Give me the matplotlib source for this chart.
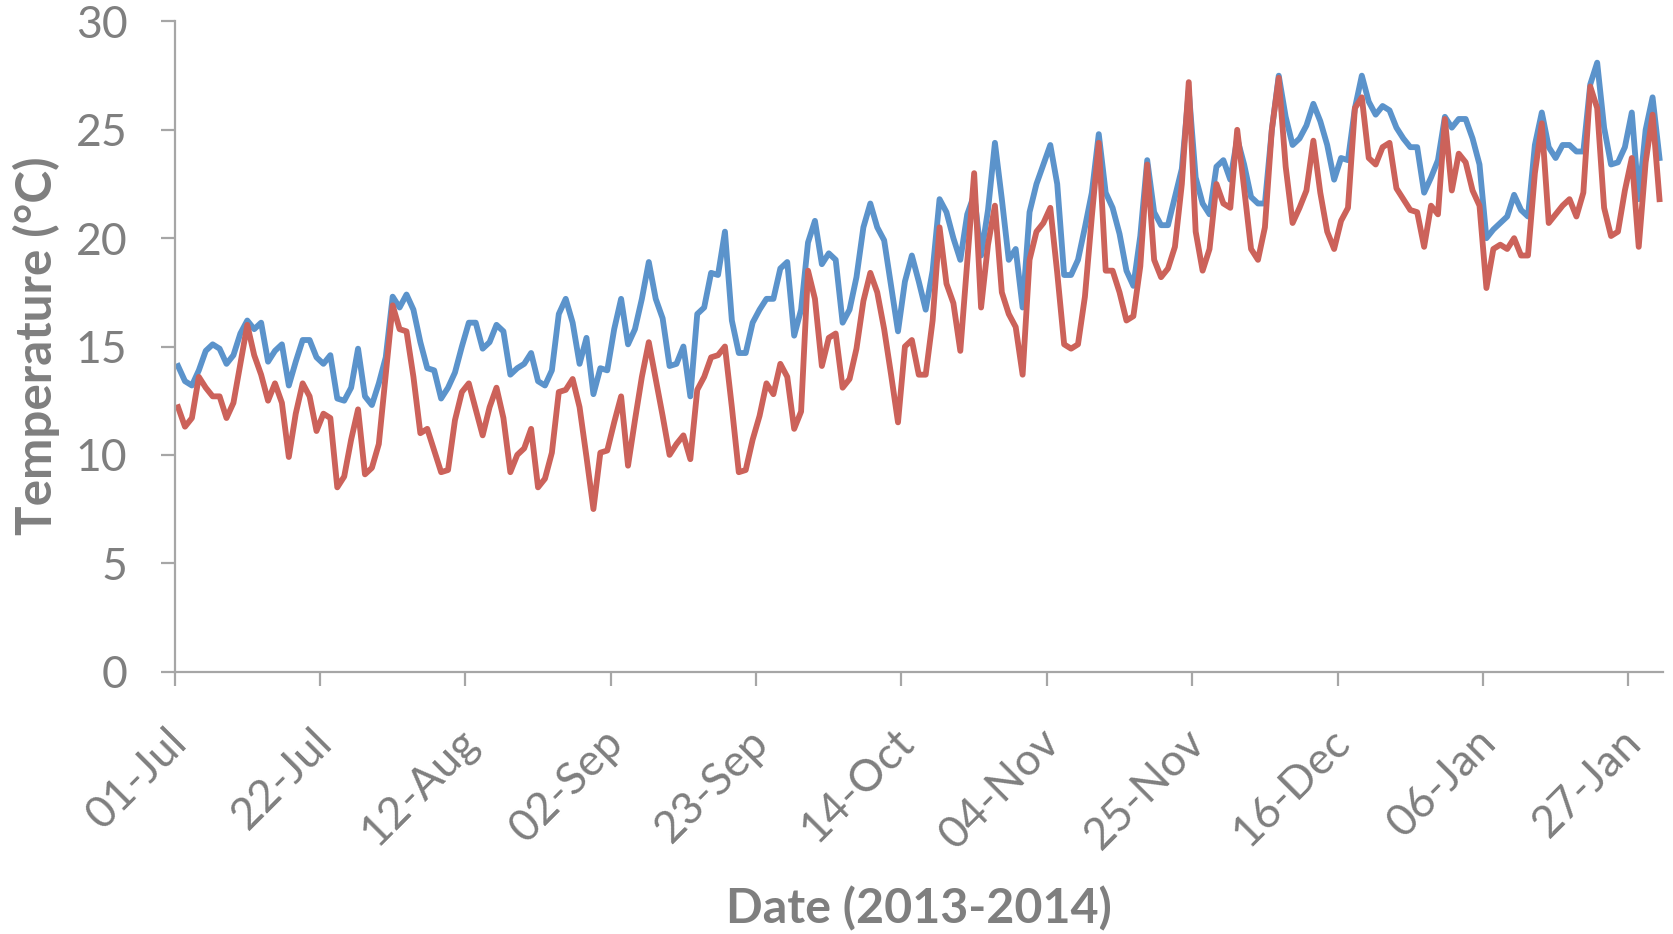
import numpy as np
import pandas as pd
import matplotlib
matplotlib.use('Agg')
from matplotlib import pyplot as plt
from matplotlib import transforms

# daily temperatures, 01-Jul-2013 to 31-Jan-2014
start_date = '2013-07-01'
blue_temps = [
    14.1, 13.4, 13.2, 13.9, 14.8, 15.1, 14.9, 14.2, 14.6, 15.6,
    16.2, 15.8, 16.1, 14.3, 14.8, 15.1, 13.2, 14.3, 15.3, 15.3,
    14.5, 14.2, 14.6, 12.6, 12.5, 13.1, 14.9, 12.7, 12.3, 13.3,
    14.5, 17.3, 16.8, 17.4, 16.7, 15.2, 14.0, 13.9, 12.6, 13.1,
    13.8, 15.0, 16.1, 16.1, 14.9, 15.2, 16.0, 15.7, 13.7, 14.0,
    14.2, 14.7, 13.4, 13.2, 13.9, 16.5, 17.2, 16.1, 14.2, 15.4,
    12.8, 14.0, 13.9, 15.8, 17.2, 15.1, 15.8, 17.2, 18.9, 17.2,
    16.3, 14.1, 14.2, 15.0, 12.7, 16.5, 16.8, 18.4, 18.3, 20.3,
    16.2, 14.7, 14.7, 16.1, 16.7, 17.2, 17.2, 18.6, 18.9, 15.5,
    16.7, 19.8, 20.8, 18.8, 19.3, 19.0, 16.1, 16.7, 18.2, 20.5,
    21.6, 20.5, 19.9, 17.8, 15.7, 18.0, 19.2, 18.0, 16.7, 18.5,
    21.8, 21.2, 20.0, 19.0, 21.1, 22.0, 19.2, 21.3, 24.4, 21.8,
    19.0, 19.5, 16.8, 21.2, 22.5, 23.4, 24.3, 22.5, 18.3, 18.3,
    19.0, 20.5, 22.1, 24.8, 22.1, 21.4, 20.2, 18.5, 17.8, 20.1,
    23.6, 21.2, 20.6, 20.6, 21.9, 23.2, 26.8, 22.8, 21.6, 21.1,
    23.3, 23.6, 22.7, 24.6, 23.4, 21.9, 21.6, 21.6, 25.0, 27.5,
    25.6, 24.3, 24.6, 25.2, 26.2, 25.4, 24.3, 22.7, 23.7, 23.6,
    26.0, 27.5, 26.3, 25.7, 26.1, 25.9, 25.1, 24.6, 24.2, 24.2,
    22.1, 22.8, 23.6, 25.6, 25.1, 25.5, 25.5, 24.6, 23.4, 20.0,
    20.4, 20.7, 21.0, 22.0, 21.3, 21.0, 24.3, 25.8, 24.2, 23.7,
    24.3, 24.3, 24.0, 24.0, 27.1, 28.1, 25.1, 23.4, 23.5, 24.2,
    25.8, 21.8, 25.0, 26.5, 23.7,
]
red_temps = [
    12.2, 11.3, 11.7, 13.6, 13.1, 12.7, 12.7, 11.7, 12.4, 14.2,
    16.0, 14.6, 13.7, 12.5, 13.3, 12.4, 9.9, 11.9, 13.3, 12.7,
    11.1, 11.9, 11.7, 8.5, 9.0, 10.7, 12.1, 9.1, 9.4, 10.5,
    13.7, 16.9, 15.8, 15.7, 13.6, 11.0, 11.2, 10.2, 9.2, 9.3,
    11.6, 12.9, 13.3, 12.1, 10.9, 12.2, 13.1, 11.7, 9.2, 10.0,
    10.3, 11.2, 8.5, 8.9, 10.1, 12.9, 13.0, 13.5, 12.2, 9.9,
    7.5, 10.1, 10.2, 11.5, 12.7, 9.5, 11.6, 13.6, 15.2, 13.5,
    11.8, 10.0, 10.5, 10.9, 9.8, 13.0, 13.6, 14.5, 14.6, 15.0,
    12.2, 9.2, 9.3, 10.7, 11.8, 13.3, 12.8, 14.2, 13.6, 11.2,
    12.0, 18.5, 17.2, 14.1, 15.4, 15.6, 13.1, 13.5, 14.9, 17.1,
    18.4, 17.5, 15.8, 13.7, 11.5, 15.0, 15.3, 13.7, 13.7, 16.2,
    20.5, 17.9, 17.0, 14.8, 18.9, 23.0, 16.8, 19.7, 21.5, 17.5,
    16.5, 15.9, 13.7, 19.0, 20.3, 20.7, 21.4, 18.4, 15.1, 14.9,
    15.1, 17.3, 21.0, 24.4, 18.5, 18.5, 17.5, 16.2, 16.4, 18.7,
    23.4, 19.0, 18.2, 18.6, 19.6, 22.5, 27.2, 20.3, 18.5, 19.5,
    22.5, 21.6, 21.4, 25.0, 22.3, 19.5, 19.0, 20.5, 25.0, 27.4,
    23.3, 20.7, 21.4, 22.2, 24.5, 22.1, 20.3, 19.5, 20.8, 21.4,
    26.0, 26.5, 23.7, 23.4, 24.2, 24.4, 22.3, 21.8, 21.3, 21.2,
    19.6, 21.5, 21.1, 25.5, 22.2, 23.9, 23.5, 22.2, 21.5, 17.7,
    19.5, 19.7, 19.5, 20.0, 19.2, 19.2, 23.0, 25.3, 20.7, 21.1,
    21.5, 21.8, 21.0, 22.1, 27.0, 26.0, 21.4, 20.1, 20.3, 22.2,
    23.7, 19.6, 23.5, 25.7, 21.8,
]
tick_dates = pd.date_range('2013-07-01', '2014-01-27', freq='21D')
y_ticks = [0, 5, 10, 15, 20, 25, 30]

grey = '#7f7f7f'
axis_grey = '#a6a6a6'
plt.rcParams['font.family'] = ['Lato', 'DejaVu Sans']

# points sit in the middle of each day, like Excel's date axis
dates = pd.date_range(start_date, periods=len(blue_temps)) + pd.Timedelta(hours=12)

fig = plt.figure(figsize=(16.74, 9.34), dpi=100)
ax = fig.add_axes([0.1043, 0.281, 0.8891, 0.696])

ax.plot(dates, blue_temps, color='#5b93cb', lw=4.2, solid_joinstyle='round')
ax.plot(dates, red_temps, color='#cc625a', lw=4.2, solid_joinstyle='round')

ax.set_xlim(pd.Timestamp('2013-07-01'), pd.Timestamp('2014-02-01'))
ax.set_ylim(0, 30)
ax.set_yticks(y_ticks)
ax.set_xticks(tick_dates)
ax.set_xticklabels([d.strftime('%d-%b') for d in tick_dates])

for side in ['top', 'right']:
    ax.spines[side].set_visible(False)
for side in ['left', 'bottom']:
    ax.spines[side].set_color(axis_grey)
    ax.spines[side].set_linewidth(1.6)

ax.tick_params(direction='out', length=10, width=1.6, color=axis_grey,
               labelcolor=grey, labelsize=32)
ax.tick_params(axis='y', pad=24)
ax.tick_params(axis='x', pad=36)

shift = transforms.ScaledTranslation(6 / 100, 0, fig.dpi_scale_trans)
for label in ax.get_xticklabels():
    label.set_rotation(45)
    label.set_ha('right')
    label.set_va('center')
    label.set_rotation_mode('anchor')
    label.set_transform(label.get_transform() + shift)

fig.text(0.549, 0.0118, 'Date (2013-2014)', fontsize=34.8, fontweight='bold',
         color=grey, ha='center', va='baseline')
fig.text(0.0309, 0.6296, 'Temperature (°C)', fontsize=35.6, fontweight='bold',
         color=grey, rotation=90, rotation_mode='anchor',
         ha='center', va='baseline')

plt.savefig('out.png', dpi=100)
plt.close()
